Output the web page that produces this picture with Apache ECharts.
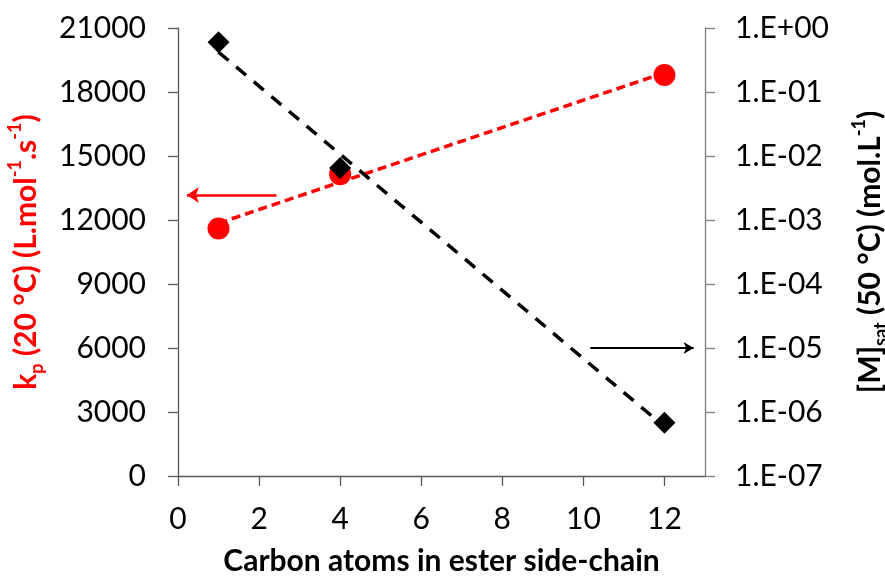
<!DOCTYPE html>
<html>
<head>
<meta charset="UTF-8">
<title>kp and Msat vs carbon atoms</title>
<script src="https://cdn.jsdelivr.net/npm/echarts@6/dist/echarts.min.js"></script>
<style>
  html, body { margin: 0; padding: 0; background: #fff; }
</style>
</head>
<body>
<div id="main" style="width: 885px;height:579px;"></div>
<script type="text/javascript">
// carbon atoms in the ester side-chain
var carbons = [1, 4, 12];
// kp (20 C), L/mol/s  -- left axis
var kpVals = [11600, 14150, 18800];
// [M]sat (50 C), mol/L -- right (log) axis
var msatVals = [0.6, 0.0065, 6.8e-7];
// dashed trend lines, end points
var kpTrend = [[1, 11850], [12, 18900]];
var msatTrend = [[1, 0.42], [12, 5.9e-7]];
// arrows telling which axis each series belongs to
var redArrow = [[2.43, 13170], [0.22, 13170]];
var blackArrow = [[10.17, 1e-5], [12.72, 1e-5]];
// tick labels
var xTicks = [0, 2, 4, 6, 8, 10, 12];

var FONT = 'Lato';
var chartDom = document.getElementById('main');
var myChart = echarts.init(chartDom);

function expLabel(v) {
    var e = Math.round(Math.log10(v));
    var s = e < 0 ? '-' : '+';
    var a = Math.abs(e);
    return '1.E' + s + (a < 10 ? '0' + a : a);
}

function pairs(xs, ys) {
    var out = [];
    for (var i = 0; i < xs.length; i++) out.push([xs[i], ys[i]]);
    return out;
}

var titleRich = function (color) {
    return {
        m: { fontFamily: FONT, fontSize: 30, fontWeight: 'bold', color: color, lineHeight: 40 },
        sup: { fontFamily: FONT, fontSize: 18, fontWeight: 'bold', color: color, verticalAlign: 'top', lineHeight: 20 },
        sub: { fontFamily: FONT, fontSize: 18, fontWeight: 'bold', color: color, verticalAlign: 'bottom', lineHeight: 20 }
    };
};

myChart.setOption({
    animation: false,
    backgroundColor: '#fff',
    grid: { left: 178, right: 180, top: 28, bottom: 103, outerBoundsMode: 'none', containLabel: false },
    xAxis: {
        type: 'value',
        min: 0,
        max: 13,
        interval: 2,
        splitLine: { show: false },
        axisLine: { lineStyle: { color: '#595959', width: 1.3 } },
        axisTick: { length: 10, customValues: xTicks, lineStyle: { color: '#595959', width: 1.3 } },
        axisLabel: {
            customValues: xTicks,
            margin: 28, fontFamily: FONT, fontSize: 30, color: '#000'
        },
        name: 'Carbon atoms in ester side-chain',
        nameLocation: 'middle',
        nameGap: 70,
        nameTextStyle: { fontFamily: FONT, fontSize: 30, fontWeight: 'bold', color: '#000' }
    },
    yAxis: [{
        type: 'value',
        min: 0,
        max: 21000,
        interval: 3000,
        position: 'left',
        splitLine: { show: false },
        axisLine: { show: true, lineStyle: { color: '#595959', width: 1.3 } },
        axisTick: { show: true, length: 10, lineStyle: { color: '#595959', width: 1.3 } },
        axisLabel: { margin: 32, fontFamily: FONT, fontSize: 30, color: '#000', formatter: function (v) { return String(v); } },
        name: '{m|k}{sub|p}{m| (20 °C) (L.mol}{sup|-1}{m|.s}{sup|-1}{m|)}',
        nameLocation: 'middle',
        nameRotate: 90,
        nameGap: 132,
        nameTextStyle: { rich: titleRich('#ff0000') }
    }, {
        type: 'log',
        logBase: 10,
        min: 1e-7,
        max: 1,
        position: 'right',
        splitLine: { show: false },
        minorTick: { show: false },
        axisLine: { show: true, lineStyle: { color: '#7f7f7f', width: 1.3 } },
        axisTick: { show: true, length: 10, lineStyle: { color: '#7f7f7f', width: 1.3 } },
        axisLabel: { margin: 30, fontFamily: FONT, fontSize: 30, color: '#000', formatter: expLabel },
        name: '{m|[M]}{sub|sat}{m| (50 °C) (mol.L}{sup|-1}{m|)}',
        nameLocation: 'middle',
        nameRotate: 90,
        nameGap: 145,
        nameTextStyle: { rich: titleRich('#000') }
    }],
    series: [{
        name: 'kp trend',
        type: 'line',
        yAxisIndex: 0,
        data: kpTrend,
        symbol: 'none',
        lineStyle: { color: '#ff0000', width: 3.5, type: [9, 5] },
        silent: true,
        markLine: {
            silent: true,
            symbol: ['none', 'arrow'],
            symbolSize: [12, 12],
            label: { show: false },
            lineStyle: { color: '#ff0000', width: 2.5, type: 'solid' },
            data: [[{ coord: redArrow[0] }, { coord: redArrow[1] }]]
        }
    }, {
        name: 'kp',
        type: 'scatter',
        yAxisIndex: 0,
        data: pairs(carbons, kpVals),
        symbol: 'circle',
        symbolSize: 22,
        itemStyle: { color: '#ff0000', opacity: 1 }
    }, {
        name: 'Msat trend',
        type: 'line',
        yAxisIndex: 1,
        data: msatTrend,
        symbol: 'none',
        lineStyle: { color: '#000', width: 3.5, type: [13, 10] },
        silent: true,
        markLine: {
            silent: true,
            symbol: ['none', 'arrow'],
            symbolSize: [9, 10],
            label: { show: false },
            lineStyle: { color: '#000', width: 2.2, type: 'solid' },
            data: [[{ coord: blackArrow[0] }, { coord: blackArrow[1] }]]
        }
    }, {
        name: 'Msat',
        type: 'scatter',
        yAxisIndex: 1,
        data: pairs(carbons, msatVals),
        symbol: 'diamond',
        symbolSize: 22,
        itemStyle: { color: '#000', opacity: 1 }
    }]
});
</script>
</body>
</html>
